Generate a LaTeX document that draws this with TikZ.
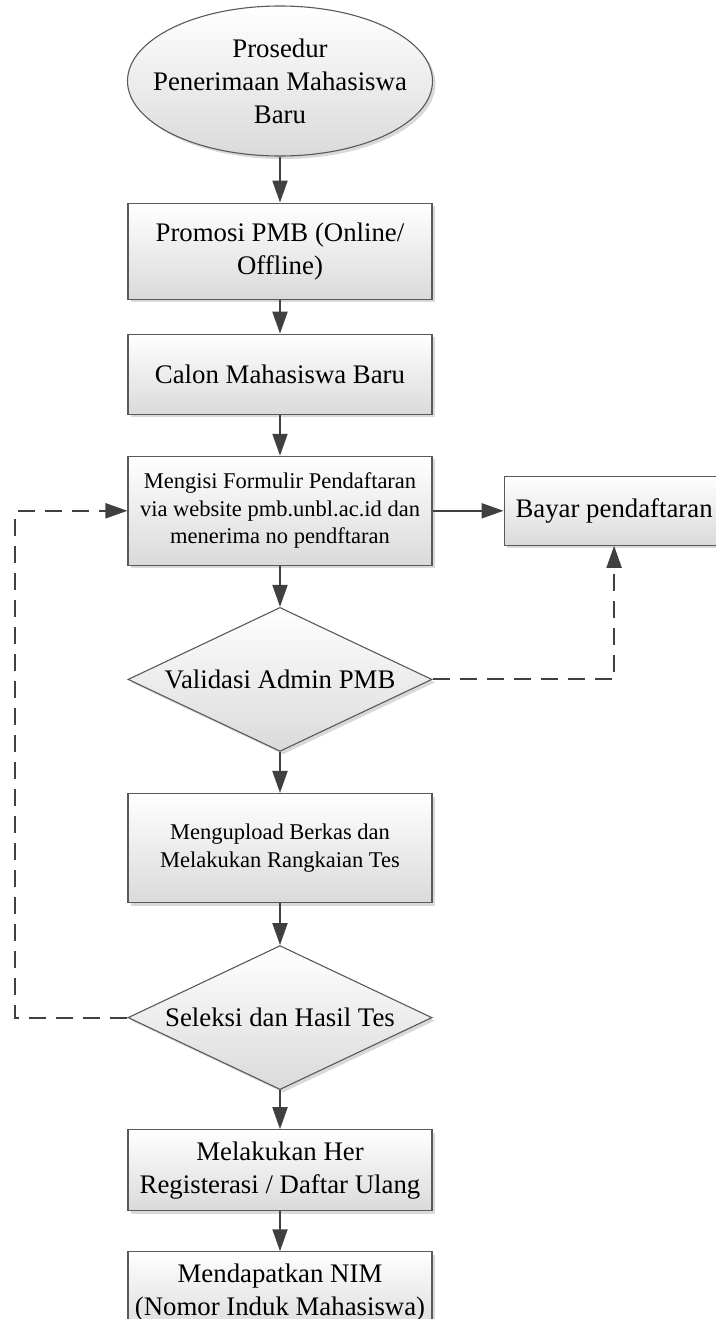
\documentclass[tikz,border=0pt]{standalone}
\usepackage{fontspec}
\setmainfont{Liberation Serif}
\usepackage{xcolor}
\usepackage{tikz}
\usetikzlibrary{positioning, arrows.meta, shapes.geometric, shadows}

\definecolor{edgegray}{HTML}{595959}
\definecolor{linegray}{HTML}{404040}
\definecolor{fillgray}{HTML}{DADADA}

\begin{document}
\begin{tikzpicture}[
    x=1pt, y=1pt,
    node distance=41pt,
    every node/.style={
        draw=edgegray,
        line width=1.1pt,
        align=center,
        top color=white,
        bottom color=fillgray,
        drop shadow={shadow xshift=3pt, shadow yshift=-3pt, opacity=0.3},
        font=\fontsize{26.8}{33}\selectfont,
        inner sep=0pt
    },
    process/.style={rectangle, minimum width=304pt},
    startend/.style={ellipse, inner xsep=-30pt, minimum width=305pt, minimum height=150pt},
    decision/.style={diamond, aspect=2.1, minimum width=304pt, minimum height=144pt},
    small/.style={font=\fontsize{22.5}{27.5}\selectfont},
    arrow/.style={-{Triangle[length=22pt,width=15pt]}, line width=2pt, draw=linegray},
    loop/.style={arrow, dash pattern=on 17pt off 10pt}
]
\useasboundingbox (0,0) rectangle (715,-1319);

\node[startend] (start) at (280,-81) {Prosedur\\Penerimaan Mahasiswa\\Baru};
\node[process, minimum height=96pt, below=46pt of start] (promosi) {Promosi PMB (Online/\\Offline)};
\node[process, minimum height=80pt, below=34pt of promosi] (calon) {Calon Mahasiswa Baru};
\node[process, small, minimum height=109pt, below=of calon] (formulir) {Mengisi Formulir Pendaftaran\\via website pmb.unbl.ac.id dan\\menerima no pendftaran};
\node[process, minimum width=220pt, minimum height=69pt, right=71pt of formulir] (bayar) {Bayar pendaftaran};
\node[decision, below=of formulir] (validasi) {Validasi Admin PMB};
\node[process, small, minimum height=109pt, below=of validasi] (upload) {Mengupload Berkas dan\\Melakukan Rangkaian Tes};
\node[decision, below=42pt of upload] (seleksi) {Seleksi dan Hasil Tes};
\node[process, minimum height=81pt, below=39pt of seleksi] (her) {Melakukan Her\\Registerasi / Daftar Ulang};
\node[process, minimum height=82pt, below=40pt of her] (nim) {Mendapatkan NIM\\(Nomor Induk Mahasiswa)};

\draw[arrow] (start) -- (promosi);
\draw[arrow] (promosi) -- (calon);
\draw[arrow] (calon) -- (formulir);
\draw[arrow] (formulir) -- (bayar);
\draw[arrow] (formulir) -- (validasi);
\draw[arrow] (validasi) -- (upload);
\draw[arrow] (upload) -- (seleksi);
\draw[arrow] (seleksi) -- (her);
\draw[arrow] (her) -- (nim);

% dashed return paths
\draw[loop] (validasi.east) -| (bayar.south);
\draw[loop] (seleksi.west) -- ++(-112,0) |- (formulir.west);

\end{tikzpicture}
\end{document}
